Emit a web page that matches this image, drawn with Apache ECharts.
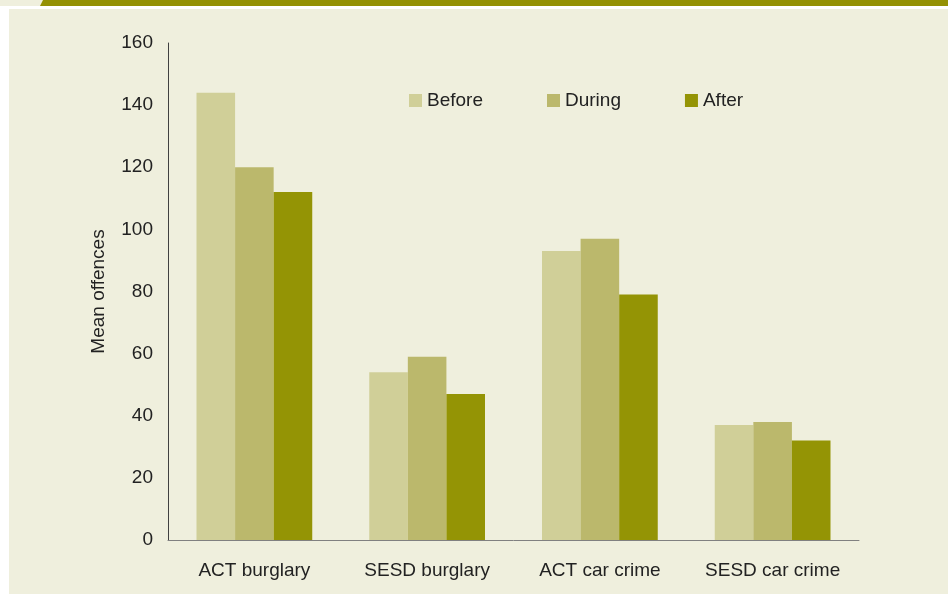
<!DOCTYPE html>
<html>
<head>
<meta charset="utf-8">
<script src="https://cdn.jsdelivr.net/npm/echarts@6/dist/echarts.min.js"></script>
<style>
  html, body { margin: 0; padding: 0; background: #ffffff; }
  #chart { width: 948px; height: 594px; }
</style>
</head>
<body>
<div id="chart"></div>
<script>
const categories = ['ACT burglary', 'SESD burglary', 'ACT car crime', 'SESD car crime']
const beforeData = [144, 54, 93, 37]
const duringData = [120, 59, 97, 38]
const afterData = [112, 47, 79, 32]
const yTicks = { min: 0, max: 160, interval: 20 }

const textColor = '#222222'
const fontFamily = '"Liberation Sans", Arial, sans-serif'

const chart = echarts.init(document.getElementById('chart'))

chart.setOption({
  animation: false,
  textStyle: { fontFamily: fontFamily },
  graphic: [
    // page background panel
    { type: 'rect', z: -10, shape: { x: 9, y: 9, width: 939, height: 585 }, style: { fill: '#EFEFDD' } },
    // header band
    { type: 'rect', z: -10, shape: { x: 0, y: 0, width: 948, height: 6 }, style: { fill: '#949104' } },
    { type: 'polygon', z: -9, shape: { points: [[0, 0], [43, 0], [40, 6], [0, 6]] }, style: { fill: '#EFEFDD' } }
  ],
  grid: {
    left: 168,
    right: 89,
    top: 43,
    bottom: 54,
    containLabel: false
  },
  legend: {
    left: 404,
    top: 86,
    icon: 'rect',
    itemWidth: 13,
    itemHeight: 13,
    itemGap: 64,
    textStyle: { fontSize: 19, color: textColor },
    data: ['Before', 'During', 'After']
  },
  xAxis: {
    type: 'category',
    data: categories,
    axisLine: { lineStyle: { color: '#808080', width: 1 } },
    axisTick: { show: false },
    axisLabel: { fontSize: 19, color: textColor, margin: 21, interval: 0 }
  },
  yAxis: {
    type: 'value',
    min: yTicks.min,
    max: yTicks.max,
    interval: yTicks.interval,
    name: 'Mean offences',
    nameLocation: 'middle',
    nameGap: 60,
    nameTextStyle: { fontSize: 19, color: textColor },
    axisLine: { show: true, lineStyle: { color: '#404040', width: 1 } },
    axisTick: { show: false },
    splitLine: { show: false },
    axisLabel: { fontSize: 19, color: textColor, margin: 15 }
  },
  series: [
    {
      name: 'Before',
      type: 'bar',
      data: beforeData,
      barGap: '0%',
      barCategoryGap: '33%',
      itemStyle: { color: '#D0CF98' }
    },
    {
      name: 'During',
      type: 'bar',
      data: duringData,
      barGap: '0%',
      barCategoryGap: '33%',
      itemStyle: { color: '#BBB86C' }
    },
    {
      name: 'After',
      type: 'bar',
      data: afterData,
      barGap: '0%',
      barCategoryGap: '33%',
      itemStyle: { color: '#949405' }
    }
  ]
})
</script>
</body>
</html>
